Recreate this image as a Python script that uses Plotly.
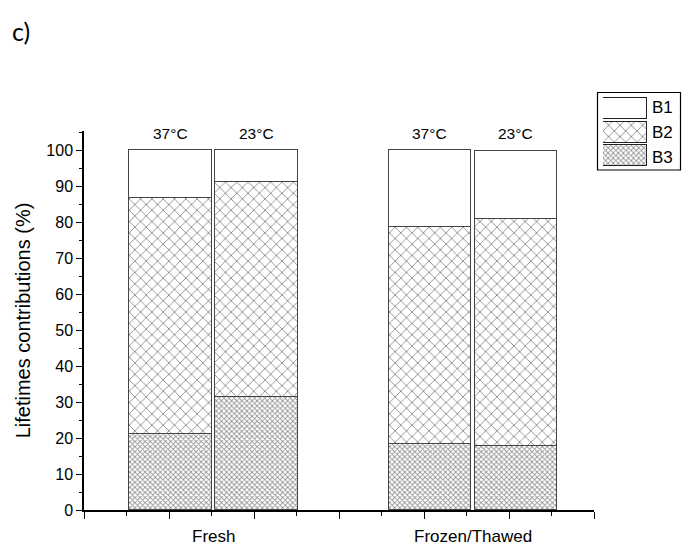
import plotly.graph_objects as go

# ---- data ----
groups = ["Fresh", "Frozen/Thawed"]
temps = ["37°C", "23°C"]
B1 = [13.2, 9.0, 21.3, 18.8]
B2 = [65.7, 59.5, 60.5, 63.1]
B3 = [21.1, 31.5, 18.2, 17.8]
series_names = ["B1", "B2", "B3"]
y_ticks = [0, 10, 20, 30, 40, 50, 60, 70, 80, 90, 100]

W, H = 682, 546
FONT = "Liberation Sans, Arial, sans-serif"

def px(xp):
    return xp / W

def py(yp):
    return 1 - yp / H

# x layout (axis units): group centres and bar offsets
group_centres = [3.05, 9.15]
offsets = [-1.01, 1.01]
bar_x = [c + o for c in group_centres for o in offsets]
bar_w = 1.94

styles = {
    "B1": dict(shape="", size=8, solidity=0.1),
    "B2": dict(shape="x", size=8, solidity=0.22),
    "B3": dict(shape="x", size=3.6, solidity=0.42),
}
values = {"B1": B1, "B2": B2, "B3": B3}

fig = go.Figure()
for name in ["B3", "B2", "B1"]:
    st = styles[name]
    fig.add_trace(go.Bar(
        x=bar_x, y=values[name], width=bar_w, name=name, showlegend=False,
        marker=dict(color="white",
                    line=dict(color="#444444", width=1.2),
                    pattern=dict(shape=st["shape"], size=st["size"], solidity=st["solidity"],
                                 fgcolor="#222222", bgcolor="white", fillmode="overlay")),
        xaxis="x", yaxis="y",
    ))

# custom legend swatches drawn as bars on a small auxiliary axis
for i, name in enumerate(series_names):
    st = styles[name]
    fig.add_trace(go.Bar(
        x=[1], y=[i], orientation="h", width=0.88, showlegend=False, hoverinfo="skip",
        marker=dict(color="white", line=dict(color="#222222", width=1.2),
                    pattern=dict(shape=st["shape"], size=st["size"], solidity=st["solidity"],
                                 fgcolor="#222222", bgcolor="white", fillmode="overlay")),
        xaxis="x2", yaxis="y2",
    ))

fig.update_layout(
    width=W, height=H,
    margin=dict(l=0, r=0, t=0, b=0, autoexpand=False),
    paper_bgcolor="white", plot_bgcolor="white",
    barmode="stack", bargap=0,
    font=dict(family=FONT, color="black", size=16),
    xaxis=dict(domain=[px(84), px(594)], range=[0, 12], anchor="y",
               showgrid=False, zeroline=False, showline=True, linecolor="black", linewidth=1.5,
               ticks="outside", tick0=0, dtick=2, ticklen=7, tickwidth=1.3, tickcolor="black",
               showticklabels=False,
               minor=dict(ticks="outside", tick0=1, dtick=2, ticklen=4, tickwidth=1.3, tickcolor="black")),
    yaxis=dict(domain=[py(510), py(131)], range=[0, 105.3], anchor="x",
               showgrid=False, zeroline=False, showline=True, linecolor="black", linewidth=1.5,
               ticks="outside", tickvals=y_ticks, ticklen=6, tickwidth=1.3, tickcolor="black",
               tickfont=dict(size=16),
               minor=dict(ticks="outside", tick0=5, dtick=10, ticklen=3, tickwidth=1.3, tickcolor="black"),
               title=dict(text="Lifetimes contributions (%)", font=dict(size=20), standoff=10),
               automargin=False),
    xaxis2=dict(domain=[px(603), px(647)], range=[0, 1], anchor="y2",
                visible=False, fixedrange=True),
    yaxis2=dict(domain=[py(167.5), py(97)], range=[2.5, -0.5], anchor="x2",
                visible=False, fixedrange=True),
)

annotations = []
# temperature labels above bars
for i, xv in enumerate(bar_x):
    annotations.append(dict(x=xv, y=100, xref="x", yref="y", text=temps[i % 2],
                            showarrow=False, yanchor="bottom", yshift=6,
                            font=dict(size=15.5, family=FONT)))
# group labels under axis
for c, g in zip(group_centres, groups):
    annotations.append(dict(x=c, y=py(536), xref="x", yref="paper", text=g,
                            showarrow=False, yanchor="middle",
                            font=dict(size=17, family=FONT)))
# legend labels
leg_y = [107.5, 132, 157]
for name, yy in zip(series_names, leg_y):
    annotations.append(dict(x=px(650), y=py(yy), xref="paper", yref="paper", text=name,
                            showarrow=False, xanchor="left", yanchor="middle",
                            font=dict(size=17, family=FONT)))
# panel label
annotations.append(dict(x=px(10), y=py(31), xref="paper", yref="paper", text="c)",
                        showarrow=False, xanchor="left", yanchor="middle",
                        font=dict(size=25, family="Lato, Open Sans, sans-serif")))
fig.update_layout(annotations=annotations)

# legend frame
fig.add_shape(type="rect", xref="paper", yref="paper",
              x0=px(597.5), x1=px(680.5), y0=py(170), y1=py(92.5),
              line=dict(color="black", width=1.2), fillcolor="rgba(0,0,0,0)")

fig.write_html("out.html",
               config={"displayModeBar": False},
               post_script="document.body.style.margin='0';document.body.style.overflow='hidden';")
